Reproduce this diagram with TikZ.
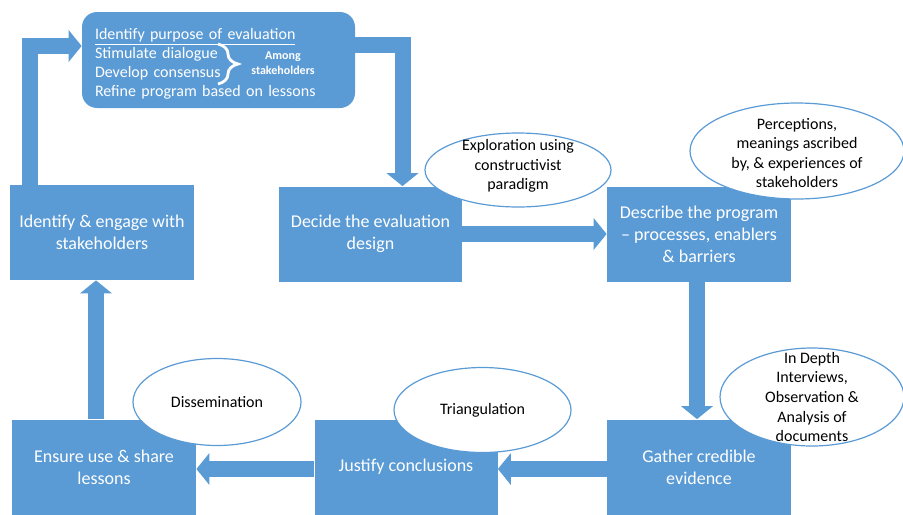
\documentclass[tikz,border=0pt]{standalone}
\usepackage{fontspec}
\setmainfont{Carlito}
\usetikzlibrary{positioning,shapes.geometric,arrows.meta,decorations.pathreplacing}
\definecolor{myblue}{RGB}{91,155,213}

\begin{document}
\begin{tikzpicture}[x=0.5pt,y=-0.5pt,
  stepbox/.style={fill=myblue,text=white,align=center,inner sep=0pt,
    minimum width=92pt,minimum height=47.5pt,font=\fontsize{9}{11}\selectfont},
  noteoval/.style={ellipse,draw=myblue,fill=white,line width=0.6pt,inner sep=0pt},
  notetext/.style={align=center,font=\fontsize{8}{9.8}\selectfont},
  blk/.style={myblue,line width=8pt,-{Triangle[length=6.5pt,width=16pt,line width=0pt]}}]

  \useasboundingbox (0,0) rectangle (903,514);

  \node[stepbox,rounded corners=7.5pt,minimum width=136.5pt,minimum height=48pt,
    text width=123.5pt,align=left,font=\fontsize{8}{9.5}\selectfont] (purpose) at (218.5,60)
    {\rule{0pt}{9pt}\underline{Identify purpose of evaluation}\\Stimulate dialogue\\Develop consensus\\Refine program based on lessons};
  \node[stepbox] (engage) at (102,232.5) {Identify \& engage with\\stakeholders};
  \node[stepbox,minimum width=91.5pt] (design) at (370.5,234) {Decide the evaluation\\design};
  \node[stepbox] (describe) at (699,234) {Describe the program\\– processes, enablers\\\& barriers};
  \node[stepbox] (gather) at (699,467) {Gather credible\\evidence};
  \node[stepbox,minimum width=91.5pt] (justify) at (406,467) {Justify conclusions};
  \node[stepbox] (ensure) at (104,467) {Ensure use \& share\\lessons};

  % brace inside the purpose box
  \draw[white,line width=1.4pt,decorate,decoration={brace,amplitude=10pt}] (218,44) -- (218,84);
  \node[text=white,align=center,font=\bfseries\fontsize{6}{7.5}\selectfont] (among) at (283,63) {Among\\stakeholders};

  % draw the cycle arrows
  \draw[blk] ([xshift=10.25pt]engage.north west) |- ([yshift=7pt]purpose.west);
  \draw[blk] ([yshift=7.5pt]purpose.east) -| ([xshift=16pt]design.north);
  \draw[blk] (design.east) -- (describe.west);
  \draw[blk] ([xshift=-1pt]describe.south) -- ([xshift=-1pt]gather.north);
  \draw[blk] ([yshift=-1pt]gather.west) -- ([yshift=-1pt]justify.east);
  \draw[blk] ([yshift=-1pt]justify.west) -- ([yshift=-1pt]ensure.east);
  \draw[blk] ([xshift=-4pt]ensure.north) -- ([xshift=-4pt]ensure.north |- engage.south);

  % draw notes on the steps
  \node[noteoval,minimum width=93pt,minimum height=37pt] (explore) at (518,170) {};
  \node[notetext] (exploret) at (518,166) {Exploration using\\constructivist\\paradigm};
  \node[noteoval,minimum width=107pt,minimum height=48pt] (perceive) at (797,151) {};
  \node[notetext] (perceivet) at (797,153) {Perceptions,\\meanings ascribed\\by, \& experiences of\\stakeholders};
  \node[noteoval,minimum width=92pt,minimum height=49pt] (depth) at (812,397) {};
  \node[notetext] (deptht) at (812,397) {In Depth\\Interviews,\\Observation \&\\Analysis of\\documents};
  \node[noteoval,minimum width=84pt,minimum height=43.5pt] (dissem) at (217,402) {};
  \node[notetext] (dissemt) at (dissem) {Dissemination};
  \node[noteoval,minimum width=88.5pt,minimum height=42.5pt] (triang) at (482.5,410) {};
  \node[notetext] (triangt) at (triang) {Triangulation};

\end{tikzpicture}
\end{document}
